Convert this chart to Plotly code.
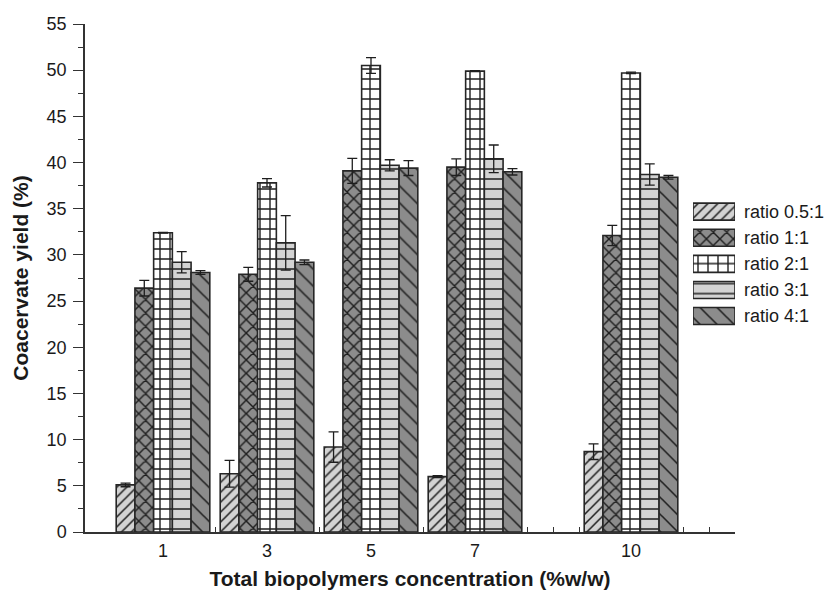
import plotly.graph_objects as go

# ---------------- data ----------------
concentrations = [1, 3, 5, 7, 10]
tick_labels = ["1", "3", "5", "7", "10"]
series_names = ["ratio 0.5:1", "ratio 1:1", "ratio 2:1", "ratio 3:1", "ratio 4:1"]

yield_05 = [5.1, 6.3, 9.2, 6.0, 8.7]
yield_1 = [26.4, 27.9, 39.1, 39.5, 32.1]
yield_2 = [32.4, 37.8, 50.5, 49.9, 49.7]
yield_3 = [29.2, 31.3, 39.7, 40.4, 38.7]
yield_4 = [28.1, 29.2, 39.4, 39.0, 38.4]

err_05 = [0.2, 1.45, 1.65, 0.1, 0.85]
err_1 = [0.85, 0.75, 1.35, 0.9, 1.1]
err_2 = [0.05, 0.45, 0.85, 0.05, 0.08]
err_3 = [1.15, 2.95, 0.6, 1.5, 1.15]
err_4 = [0.2, 0.25, 0.8, 0.35, 0.2]

values = [yield_05, yield_1, yield_2, yield_3, yield_4]
errors = [err_05, err_1, err_2, err_3, err_4]

# ---------------- styles ----------------
LIGHT = "#d3d3d3"
DARK = "#8c8c8c"
bg_colors = [LIGHT, DARK, "#ffffff", LIGHT, DARK]
shapes = ["/", "x", "+", "-", "\\"]
sizes = [7, 9.5, 10, 10, 12]
solidities = [0.22, 0.28, 0.26, 0.15, 0.13]
OUTLINE = "#262626"
HATCH = "#1e1e1e"
FONT = "Liberation Sans, Arial, sans-serif"
TXT = "#1a1a1a"


def marker_for(i):
    return dict(
        color=bg_colors[i],
        line=dict(color=OUTLINE, width=1.6),
        pattern=dict(shape=shapes[i], size=sizes[i], solidity=solidities[i],
                     fgcolor=HATCH, bgcolor=bg_colors[i], fillmode="replace"),
    )


fig = go.Figure()

for i, name in enumerate(series_names):
    fig.add_trace(go.Bar(
        x=concentrations, y=values[i], name=name,
        marker=marker_for(i),
        error_y=dict(type="data", array=errors[i], color=HATCH, thickness=1.3, width=5),
        showlegend=False, xaxis="x", yaxis="y",
    ))

# legend drawn as swatch bars on a small overlay axis
for i, name in enumerate(series_names):
    fig.add_trace(go.Bar(
        x=[1], y=[name], orientation="h", width=0.65, offsetgroup="legend",
        marker=marker_for(i),
        showlegend=False, hoverinfo="skip", xaxis="x2", yaxis="y2",
    ))

fig.update_layout(
    width=827, height=590,
    margin=dict(l=85, r=92, t=24, b=58),
    paper_bgcolor="white", plot_bgcolor="white",
    barmode="group", bargap=0.1, bargroupgap=0,
    font=dict(family=FONT, color=TXT, size=18),
    xaxis=dict(
        range=[-0.5, 12], tickmode="array", tickvals=concentrations, ticktext=tick_labels,
        ticks="", showline=True, linecolor="#333333", linewidth=1.5,
        showgrid=False, zeroline=False, automargin=False,
        tickfont=dict(size=18, family=FONT, color=TXT), ticklabelstandoff=2,
        minor=dict(tickmode="array", tickvals=[2, 4, 6, 8, 8.5, 9, 11, 11.5],
                   ticks="inside", ticklen=5, tickwidth=1.2, tickcolor="#333333", showgrid=False),
        title=dict(text="<b>Total biopolymers concentration (%w/w)</b>",
                   font=dict(size=21, family=FONT, color=TXT), standoff=12),
    ),
    yaxis=dict(
        range=[0, 55], dtick=5, tick0=0, ticks="outside", ticklen=10, tickwidth=1.2,
        tickcolor="#333333", showline=True, linecolor="#333333", linewidth=1.5,
        showgrid=False, zeroline=False, automargin=False,
        tickfont=dict(size=18, family=FONT, color=TXT), ticklabelstandoff=3,
        minor=dict(dtick=2.5, tick0=0, ticks="outside", ticklen=5, tickwidth=1.2,
                   tickcolor="#333333", showgrid=False),
        title=dict(text="<b>Coacervate yield (%)</b>",
                   font=dict(size=21, family=FONT, color=TXT), standoff=12),
    ),
    xaxis2=dict(domain=[0.9354, 1.0], range=[0, 1], anchor="y2", visible=False, fixedrange=True),
    yaxis2=dict(domain=[0.3994, 0.6563], anchor="x2", side="right", type="category",
                categoryorder="array", categoryarray=series_names,
                range=[4.5, -0.5], showline=False, ticks="", showgrid=False, zeroline=False,
                tickfont=dict(size=18, family=FONT, color=TXT), ticklabelstandoff=8,
                automargin=False, fixedrange=True),
)

fig.write_html("out.html")
